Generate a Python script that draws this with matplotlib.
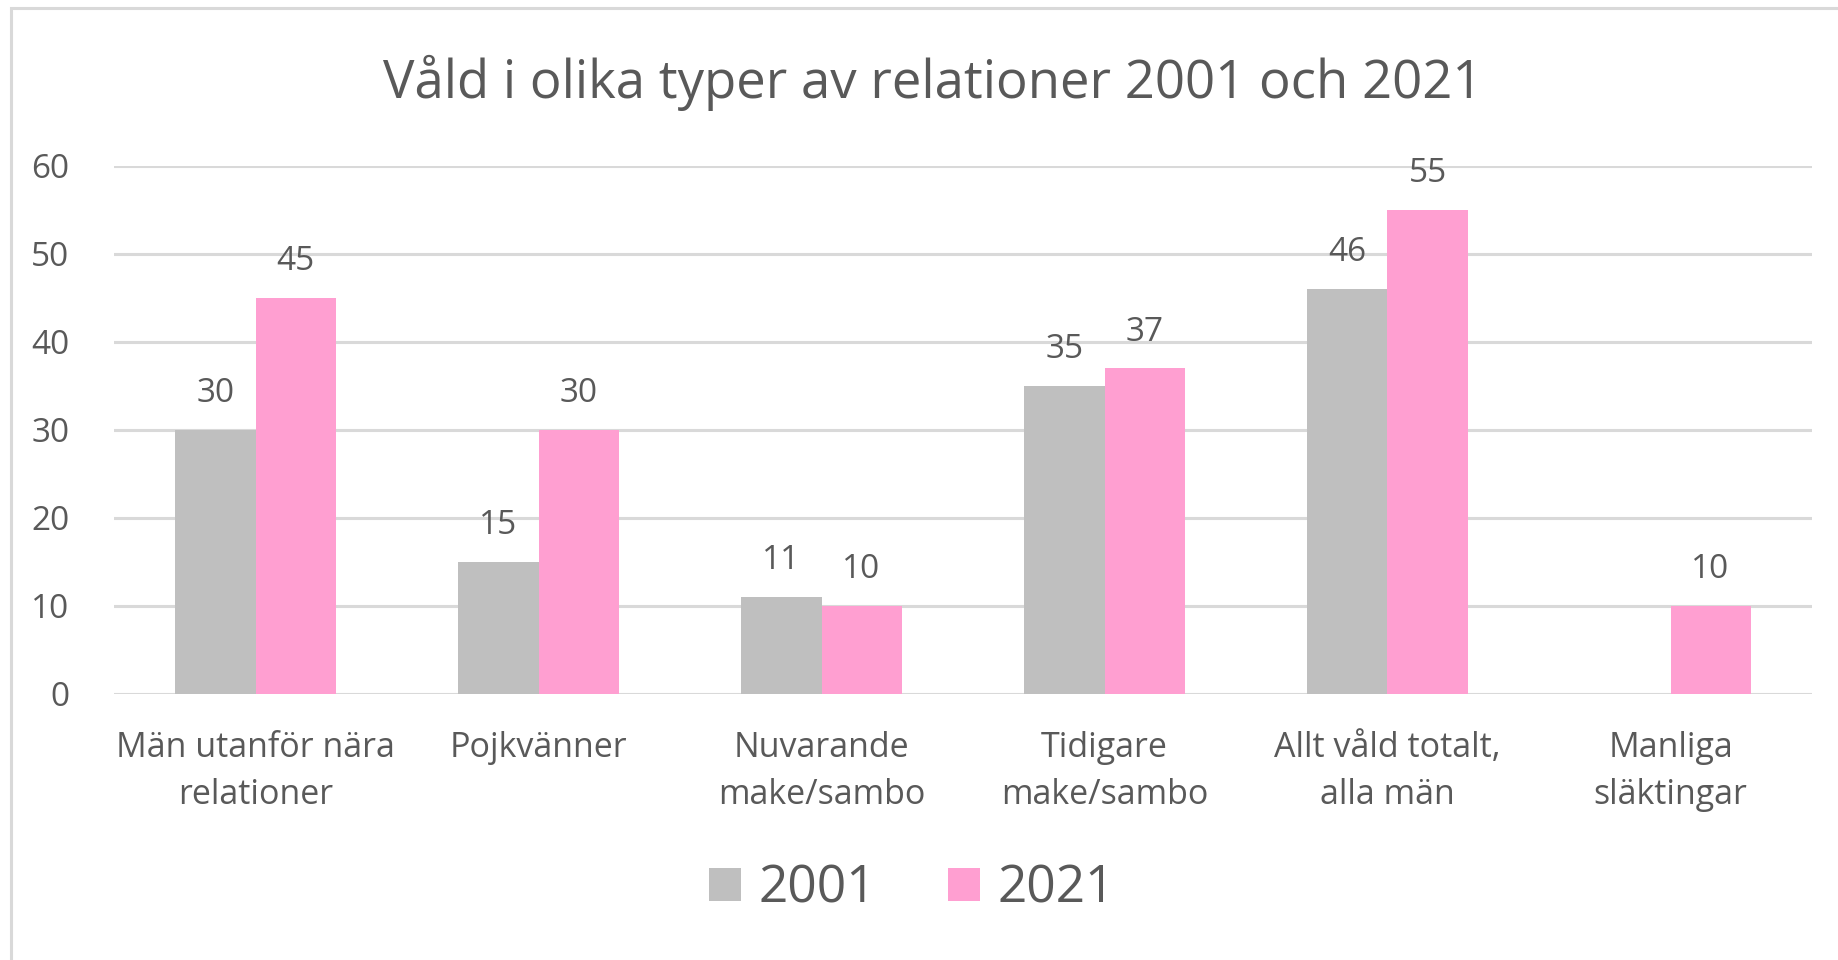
import matplotlib.pyplot as plt
import numpy as np
from matplotlib.patches import Rectangle

plt.rcParams["font.family"] = ["Open Sans", "DejaVu Sans"]

TITLE = "Våld i olika typer av relationer 2001 och 2021"
CATEGORIES = [
    "Män utanför nära\nrelationer",
    "Pojkvänner",
    "Nuvarande\nmake/sambo",
    "Tidigare\nmake/sambo",
    "Allt våld totalt,\nalla män",
    "Manliga\nsläktingar",
]
SERIES = ["2001", "2021"]
VALUES_2001 = [30, 15, 11, 35, 46, np.nan]
VALUES_2021 = [45, 30, 10, 37, 55, 10]
Y_TICKS = [0, 10, 20, 30, 40, 50, 60]

COLORS = ["#BFBFBF", "#FF9FD1"]
TEXT = "#595959"
GRID = "#D9D9D9"

W, H = 1838, 960


def main() -> None:
    fig = plt.figure(figsize=(W / 100, H / 100), dpi=100)
    ax = fig.add_axes([114 / W, 1 - 694 / H, (1812 - 114) / W, (694 - 166) / H])

    x = np.arange(len(CATEGORIES))
    bw = 0.283
    for i, (vals, name) in enumerate(zip([VALUES_2001, VALUES_2021], SERIES)):
        off = (i - 0.5) * bw
        ax.bar(x + off, vals, bw, color=COLORS[i], label=name, zorder=2)
        for xi, v in zip(x, vals):
            if np.isnan(v):
                continue
            ax.annotate(f"{v:g}", (xi + off, v), xytext=(0, 20), textcoords="offset points",
                        ha="center", va="baseline", fontsize=24, color=TEXT,
                        annotation_clip=False)

    ax.set_xlim(-0.5, len(CATEGORIES) - 0.5)
    ax.set_ylim(0, 60)
    ax.set_yticks(Y_TICKS)
    ax.set_xticks(x)
    ax.set_xticklabels(CATEGORIES, fontsize=24.5, color=TEXT, linespacing=1.5)
    ax.tick_params(axis="x", length=0, pad=26.5)
    ax.tick_params(axis="y", length=0, pad=32, labelsize=24, labelcolor=TEXT)
    ax.grid(axis="y", color=GRID, linewidth=2.2, zorder=0)
    ax.set_axisbelow(True)
    for s in ax.spines.values():
        s.set_visible(False)

    fig.text(933 / W, 1 - 83 / H, TITLE, ha="center", va="center", fontsize=38, color=TEXT)

    fig.legend(loc="center", bbox_to_anchor=(912 / W, 1 - 889 / H), ncol=2, frameon=False,
               fontsize=37, labelcolor=TEXT, handlelength=0.62, handleheight=0.62,
               handletextpad=0.35, columnspacing=1.4)

    fig.add_artist(Rectangle((11 / W, -0.1), 1.2, 1 - 8 / H + 0.1, transform=fig.transFigure,
                             fill=False, edgecolor=GRID, linewidth=2.2))

    fig.savefig("out.png", dpi=100)


if __name__ == "__main__":
    main()
